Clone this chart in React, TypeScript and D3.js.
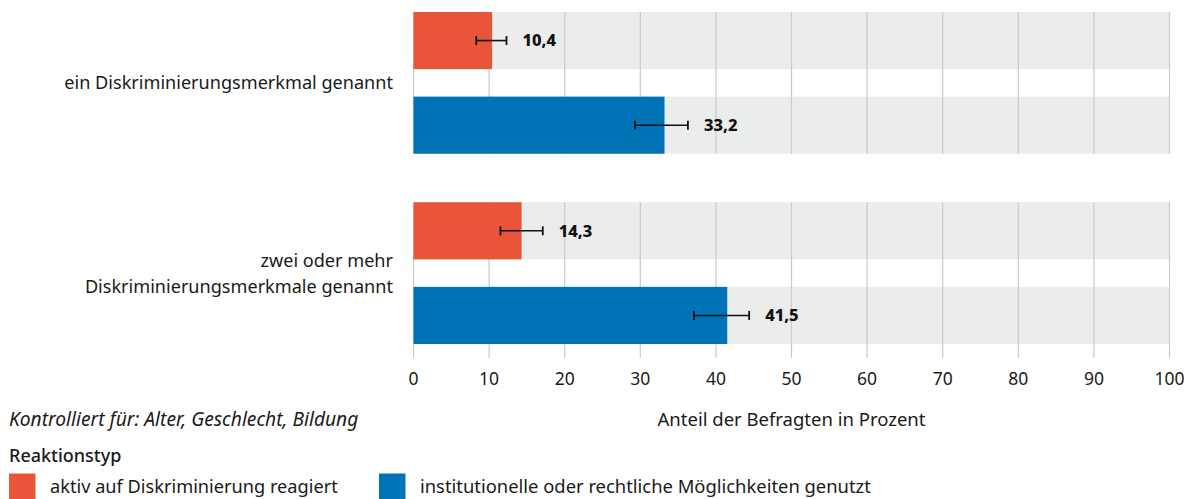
import React from "react";
import * as d3 from "d3";

const groups = ["ein Diskriminierungsmerkmal genannt", "zwei oder mehr Diskriminierungsmerkmale genannt"];
const groupLines = [["ein Diskriminierungsmerkmal genannt"], ["zwei oder mehr", "Diskriminierungsmerkmale genannt"]];
const seriesNames = ["aktiv auf Diskriminierung reagiert", "institutionelle oder rechtliche Möglichkeiten genutzt"];
const seriesColors = ["#E85538", "#0072B6"];
const values = [[10.4, 33.2], [14.3, 41.5]];
const lower = [[8.3, 29.3], [11.5, 37.1]];
const upper = [[12.3, 36.3], [17.1, 44.4]];
const valueLabels = [["10,4", "33,2"], ["14,3", "41,5"]];
const ticks = [0, 10, 20, 30, 40, 50, 60, 70, 80, 90, 100];

const FONT = "'Noto Sans', sans-serif";

export default function App() {
  const W = 1189, H = 499;
  const x = d3.scaleLinear().domain([0, 100]).range([413.5, 1169.5]);
  const y0 = d3.scaleBand<number>().domain([0, 1]).range([12, 344]).paddingInner(0.255).paddingOuter(0);
  const y1 = d3.scaleBand<number>().domain([0, 1]).range([0, y0.bandwidth()]).paddingInner(0.325).paddingOuter(0);
  const textColor = "#1a1a1a";

  return (
    <svg width={W} height={H} style={{ position: "absolute", left: 0, top: 0, fontFamily: FONT }}>
      {groups.map((g, gi) =>
        seriesNames.map((s, si) => (
          <rect key={`bg${gi}${si}`} x={x(0)} y={y0(gi)! + y1(si)!} width={x(100) - x(0)} height={y1.bandwidth()} fill="#EBECEC" />
        ))
      )}
      {groups.map((g, gi) =>
        ticks.map((t) => (
          <line key={`gl${gi}${t}`} x1={x(t)} x2={x(t)} y1={y0(gi)!} y2={gi === groups.length - 1 ? 358 : y0(gi)! + y0.bandwidth()} stroke="#C9CACA" strokeWidth={1.2} />
        ))
      )}
      {groups.map((g, gi) =>
        seriesNames.map((s, si) => {
          const yy = y0(gi)! + y1(si)!;
          const cy = yy + y1.bandwidth() / 2;
          return (
            <g key={`b${gi}${si}`}>
              <rect x={x(0)} y={yy} width={x(values[gi][si]) - x(0)} height={y1.bandwidth()} fill={seriesColors[si]} />
              <line x1={x(lower[gi][si])} x2={x(upper[gi][si])} y1={cy} y2={cy} stroke="#111" strokeWidth={1.6} />
              <line x1={x(lower[gi][si])} x2={x(lower[gi][si])} y1={cy - 4.5} y2={cy + 4.5} stroke="#111" strokeWidth={1.8} />
              <line x1={x(upper[gi][si])} x2={x(upper[gi][si])} y1={cy - 4.5} y2={cy + 4.5} stroke="#111" strokeWidth={1.8} />
              <text x={x(upper[gi][si]) + 16} y={cy} dy="0.36em" fontSize={16.5} fontWeight={800} fill="#111">{valueLabels[gi][si]}</text>
            </g>
          );
        })
      )}
      {groupLines.map((lines, gi) => {
        const cy = y0(gi)! + y0.bandwidth() / 2;
        const lh = 26;
        return (
          <text key={`cat${gi}`} textAnchor="end" fontSize={18.1} fill={textColor}>
            {lines.map((l, li) => (
              <tspan key={li} x={393} y={cy + (li - (lines.length - 1) / 2) * lh} dy="0.36em">{l}</tspan>
            ))}
          </text>
        );
      })}
      {ticks.map((t) => (
        <text key={`t${t}`} x={x(t)} y={379} dy="0.36em" textAnchor="middle" fontSize={17.5} fill={textColor}>{t}</text>
      ))}
      <text x={x(50)} y={419} dy="0.36em" textAnchor="middle" fontSize={18.5} fill={textColor}>Anteil der Befragten in Prozent</text>
      <text x={9} y={419} dy="0.36em" fontSize={19.2} fontStyle="italic" fill={textColor}>Kontrolliert für: Alter, Geschlecht, Bildung</text>
      <text x={9} y={456} dy="0.36em" fontSize={18} fontWeight={500} fill={textColor}>Reaktionstyp</text>
      {seriesNames.map((s, si) => {
        const lx = [9, 379][si];
        return (
          <g key={`lg${si}`}>
            <rect x={lx} y={473.5} width={26.5} height={25.5} fill={seriesColors[si]} />
            <text x={lx + 41} y={486} dy="0.36em" fontSize={si === 0 ? 18.2 : 18.4} fill={textColor}>{s}</text>
          </g>
        );
      })}
    </svg>
  );
}
